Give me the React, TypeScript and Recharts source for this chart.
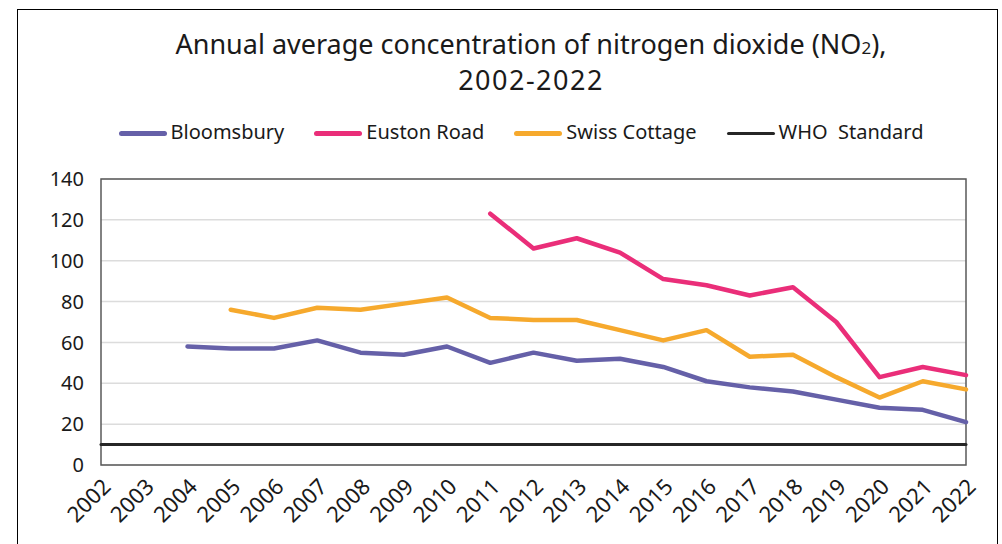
import { LineChart, Line, XAxis, YAxis, CartesianGrid, ReferenceArea } from 'recharts'

const years = [
  '2002', '2003', '2004', '2005', '2006', '2007', '2008', '2009', '2010', '2011', '2012',
  '2013', '2014', '2015', '2016', '2017', '2018', '2019', '2020', '2021', '2022',
]
const bloomsbury = [null, null, 58, 57, 57, 61, 55, 54, 58, 50, 55, 51, 52, 48, 41, 38, 36, 32, 28, 27, 21]
const eustonRoad = [null, null, null, null, null, null, null, null, null, 123, 106, 111, 104, 91, 88, 83, 87, 70, 43, 48, 44]
const swissCottage = [null, null, null, 76, 72, 77, 76, 79, 82, 72, 71, 71, 66, 61, 66, 53, 54, 43, 33, 41, 37]
const whoStandard = [10, 10, 10, 10, 10, 10, 10, 10, 10, 10, 10, 10, 10, 10, 10, 10, 10, 10, 10, 10, 10]
const yTicks = [0, 20, 40, 60, 80, 100, 120, 140]

const series = [
  { key: 'bloomsbury', name: 'Bloomsbury', color: '#6560A8', width: 4.5 },
  { key: 'eustonRoad', name: 'Euston Road', color: '#EA2E79', width: 4.5 },
  { key: 'swissCottage', name: 'Swiss Cottage', color: '#F6A92D', width: 4.5 },
  { key: 'whoStandard', name: 'WHO  Standard', color: '#262626', width: 3 },
]

const data = years.map((year, i) => ({
  year,
  bloomsbury: bloomsbury[i],
  eustonRoad: eustonRoad[i],
  swissCottage: swissCottage[i],
  whoStandard: whoStandard[i],
}))

const font = '"Noto Sans", "Open Sans", sans-serif'

// legend drawn in html above the chart, so it doesn't eat into the plot area
function LegendRow() {
  return (
    <div style={{ position: 'absolute', left: 0, top: 118, width: 1042, display: 'flex', justifyContent: 'center', gap: 30, fontFamily: font, fontSize: 20, color: '#1a1a1a' }}>
      {series.map((s) => (
        <div key={s.key} style={{ display: 'flex', alignItems: 'center', whiteSpace: 'pre' }}>
          <span style={{ display: 'inline-block', width: 48, height: s.key === 'whoStandard' ? 3 : 4.5, borderRadius: 3, background: s.color, marginRight: 4, marginTop: 4 }} />
          <span>{s.name}</span>
        </div>
      ))}
    </div>
  )
}

export default function App() {
  return (
    <div style={{ position: 'absolute', left: 0, top: 0, width: 1002, height: 544, background: '#fff', overflow: 'hidden' }}>
      <div style={{ position: 'absolute', left: 17, top: 9, width: 979, height: 600, border: '1px solid #000' }} />
      <div style={{ position: 'absolute', left: 0, top: 28, width: 1062, textAlign: 'center', fontFamily: font, fontSize: 27, lineHeight: '32px', color: '#1a1a1a' }}>
        Annual average concentration of nitrogen dioxide (NO<span style={{ fontSize: 17 }}>2</span>),
        <br />
        <span style={{ letterSpacing: 1.5 }}>2002-2022</span>
      </div>
      <LegendRow />
      <div style={{ position: 'absolute', left: 0, top: 0 }}>
        <LineChart width={1002} height={544} data={data} margin={{ top: 179, right: 36, bottom: 9, left: 41 }}>
          <CartesianGrid vertical={false} stroke="#DCDCDC" strokeWidth={1.5} />
          <ReferenceArea x1="2002" x2="2022" y1={0} y2={140} fill="none" stroke="#595959" strokeWidth={1.5} />
          <XAxis
            dataKey="year"
            interval={0}
            tickLine={false}
            axisLine={false}
            angle={-45}
            textAnchor="end"
            height={70}
            tickMargin={6}
            tick={{ fontFamily: font, fontSize: 22, fill: '#1a1a1a' }}
          />
          <YAxis
            domain={[0, 140]}
            ticks={yTicks}
            width={60}
            tickLine={false}
            axisLine={false}
            tickMargin={11}
            tick={{ fontFamily: font, fontSize: 20, fill: '#1a1a1a' }}
          />
          {series.map((s) => (
            <Line
              key={s.key}
              dataKey={s.key}
              name={s.name}
              stroke={s.color}
              strokeWidth={s.width}
              strokeLinecap="round"
              strokeLinejoin="round"
              dot={false}
              activeDot={false}
              isAnimationActive={false}
            />
          ))}
        </LineChart>
      </div>
    </div>
  )
}
